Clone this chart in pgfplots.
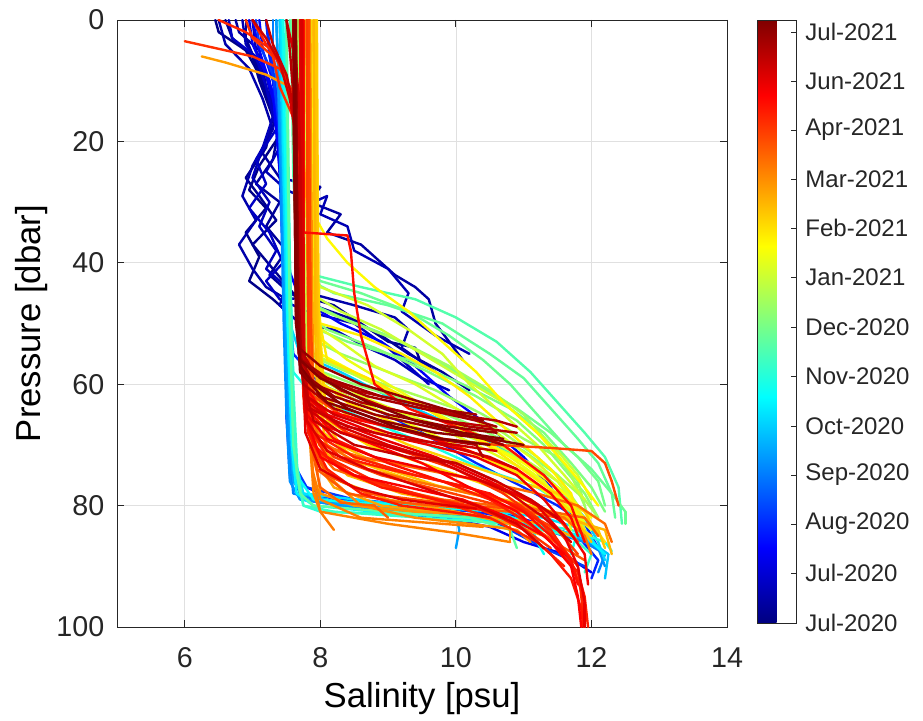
\documentclass[border=0pt]{standalone}
\usepackage{pgfplots}
\pgfplotsset{compat=1.18}
\usepackage{fontspec}
\setmainfont{Liberation Sans}
\definecolor{axgray}{RGB}{38,38,38}
\newcommand{\prof}[2]{\addplot[mesh, point meta=#1, line width=1.8pt, line cap=round, line join=round] coordinates {#2};}
\begin{document}
\begin{tikzpicture}
\begin{axis}[
  at={(87.75pt,69.75pt)}, anchor=south west,
  scale only axis, width=457.5pt, height=455.25pt,
  xmin=5, xmax=14, ymin=0, ymax=100, y dir=reverse,
  xtick={6,8,10,12,14}, ytick={0,20,40,60,80,100},
  grid=major, major grid style={black!12, line width=0.5pt},
  axis line style={axgray, line width=0.6pt},
  tick style={axgray, line width=0.6pt},
  tick align=inside, major tick length=5pt,
  ticklabel style={font=\fontsize{21.5}{21.5}\selectfont, text=axgray},
  xticklabel style={yshift=-12pt},
  yticklabel style={xshift=-6pt},
  /pgf/number format/assume math mode=true,
  xlabel={Salinity [psu]}, ylabel={Pressure [dbar]},
  label style={font=\fontsize{26}{26}\selectfont, text=black},
  xlabel style={yshift=-4pt},
  colormap/jet,
  point meta min=0, point meta max=603,
  colorbar,
  colorbar style={
    scale only axis,
    at={(parent axis.north east)}, anchor=north west, xshift=14.5pt,
    width=29.25pt, height=452.25pt,
    ytick={0,50,99,148,197,247,296,346,395,444,493,542,591},
    yticklabels={Jul-2020,Jul-2020,Aug-2020,Sep-2020,Oct-2020,Nov-2020,Dec-2020,Jan-2021,Feb-2021,Mar-2021,Apr-2021,Jun-2021,Jul-2021},
    yticklabel style={font=\fontsize{18}{18}\selectfont, text=axgray, xshift=3pt},
    ytick pos=right, yticklabel pos=right,
    tick align=inside, major tick length=4pt,
    axis line style={axgray, line width=0.6pt},
    tick style={axgray, line width=0.6pt},
  },
]
% ---- dark blue (Jul 2020)
\prof{5}{(6.45,0)(6.5,2)(6.9,5)(7.1,9)(7.25,14)(7.4,19)(7.1,24)(6.95,28)(7.2,31)(6.9,35)(7.1,39)(6.95,43)(7.3,46)(7.6,49)}
\prof{10}{(6.6,0)(6.7,3)(7.0,6)(7.1,10)(7.3,16)(7.2,21)(6.9,26)(7.1,29)(7.35,33)(7.0,37)(7.3,41)(7.6,45)(8.2,47)(8.6,50)(9.0,53)(9.4,54)(9.5,57)}
\prof{15}{(6.9,0)(6.9,3)(7.05,7)(7.2,12)(7.4,17)(7.3,23)(7.05,27)(7.4,30)(7.2,34)(7.5,38)(7.25,42)(7.55,45)(7.9,47)(8.4,49)(8.9,52)(9.3,55)(9.8,58)(10.2,61)}
\prof{20}{(6.75,0)(6.8,2)(7.1,5)(7.2,11)(7.35,16)(7.15,22)(7.4,26)(8.0,27.5)(7.85,30)(8.3,32)(8.1,35)(8.6,37)(8.9,40)(9.1,42)(9.4,44)(9.6,46)(9.7,50)(10.1,56)}
\prof{25}{(6.5,0)(6.6,4)(6.95,8)(7.15,13)(7.3,18)(7.0,24)(6.85,29)(7.05,33)(6.8,37)(7.0,41)(7.2,44)(7.5,46)(8.0,45.5)(8.5,47)(9.1,49)(9.3,51)(9.2,54)(9.7,58)}
\prof{30}{(6.85,0)(6.9,4)(7.2,9)(7.3,14)(7.45,20)(7.2,25)(7.5,28)(7.9,30)(8.1,29)(8.0,32)(8.4,34)(8.5,38)(9.0,41)(9.3,45)(9.2,48)(9.7,52)(10.2,55)}
\prof{35}{(7.0,0)(7.05,5)(7.25,10)(7.3,16)(7.15,21)(7.0,26)(7.25,30)(7.1,34)(7.35,38)(7.2,41)(7.5,44)(7.4,47)(7.7,50)(8.2,51)(8.7,54)(9.1,56)(9.5,59)(9.9,61)}
\prof{40}{(6.65,0)(6.7,3)(7.05,6)(7.2,11)(7.35,18)(7.05,23)(7.2,27)(6.95,31)(7.25,35)(7.45,40)(7.2,43)(7.4,46)(7.8,48)(8.5,50)(9.0,54)(9.6,60)}
% ---- blue (Aug 2020)
\prof{65}{(6.95,0)(7.0,4)(7.2,9)(7.35,15)(7.4,25)(7.45,40)(7.5,55)(7.5,65)(7.55,75)(7.8,79)(8.8,81)(9.8,82)(10.5,83.5)(11.0,86)(11.6,88)(12.0,91)}
\prof{70}{(7.0,0)(7.1,5)(7.3,12)(7.4,25)(7.5,40)(7.7,46)(8.3,50)(8.9,53)(9.4,57)(9.9,62)(10.5,67)(11.0,72)(11.4,77)(11.7,82)(12.0,86)}
\prof{80}{(7.1,0)(7.15,5)(7.3,10)(7.4,20)(7.45,35)(7.5,50)(7.5,65)(7.6,76)(8.2,79)(9.5,80)(10.8,81.5)(11.5,84)(12.0,86)(12.2,88)}
\prof{95}{(7.2,0)(7.25,6)(7.35,12)(7.42,25)(7.48,45)(7.52,60)(7.55,74)(7.7,78)(9.0,80)(10.3,81)(11.2,83)(11.8,85)(12.1,89)(12.0,92)}
\prof{100}{(7.2,0)(7.3,8)(7.45,20)(7.5,40)(7.6,55)(8.0,60)(8.8,64)(9.5,68)(10.3,73)(11.0,77)(11.5,80)(11.9,83)(12.1,87)}
\prof{110}{(7.05,0)(7.1,4)(7.3,9)(7.4,18)(7.46,30)(7.5,48)(7.55,62)(7.6,73)(7.8,77)(8.5,79)(9.5,80)(10.3,81)(10.8,84)(11.3,87)(11.9,90)}
% ---- cyan (Sep-Nov 2020)
\prof{150}{(7.3,0)(7.3,5)(7.38,12)(7.42,25)(7.48,45)(7.5,60)(7.55,72)(7.6,78)(8.3,80)(9.5,81)(10.6,82)(11.3,84)(11.9,86)(12.2,88)(12.1,91)}
\prof{160}{(7.35,0)(7.38,10)(7.42,30)(7.46,50)(7.5,65)(7.55,76)(7.7,79)(8.6,80.5)(9.9,81.5)(11.0,83)(11.7,85)(12.1,87)(12.2,90)}
\prof{170}{(7.35,0)(7.38,8)(7.42,20)(7.46,35)(7.5,55)(7.55,68)(7.6,76)(7.8,79)(8.8,80.5)(10.0,81.5)(10.05,84)(10.0,87)}
\prof{190}{(7.4,0)(7.42,10)(7.45,25)(7.5,45)(7.55,62)(7.6,74)(7.7,78)(8.5,80)(9.8,81)(10.8,82.5)(11.5,84)(12.0,86)(12.25,88)(12.2,92)}
\prof{200}{(7.4,0)(7.45,15)(7.5,35)(7.55,50)(7.7,55)(8.3,58)(9.0,62)(9.8,66)(10.6,70)(11.2,74)(11.6,78)(11.9,82)(12.1,86)(12.2,89)}
\prof{210}{(7.42,0)(7.44,10)(7.46,25)(7.5,45)(7.55,60)(7.62,72)(7.75,78)(8.9,79.5)(10.3,80.5)(11.3,82)(11.9,84)(12.1,87)}
\prof{220}{(7.44,0)(7.46,15)(7.5,35)(7.53,55)(7.58,70)(7.65,78)(7.9,80)(8.8,81)(10.0,82)(11.2,83.5)(11.9,85)(12.2,88)}
\prof{230}{(7.45,0)(7.46,10)(7.5,30)(7.52,50)(7.58,65)(7.65,75)(7.9,79)(9.3,80)(10.6,81)(11.1,83)(11.2,86)(11.3,88)}
\prof{240}{(7.45,0)(7.5,15)(7.55,40)(7.6,58)(7.9,62)(8.7,66)(9.6,70)(10.4,74)(11.2,77)(11.6,80)(11.8,84)(11.7,88)}
\prof{250}{(7.5,0)(7.5,10)(7.52,30)(7.55,50)(7.6,65)(7.65,75)(7.75,80)(8.0,81)(9.5,81.5)(10.9,82.5)(11.7,84)(12.2,86)(12.3,87.5)}
\prof{260}{(7.5,0)(7.52,15)(7.55,40)(7.6,60)(7.66,74)(7.75,80)(8.2,81)(9.5,82)(10.8,83)(11.7,85)(12.0,88)(11.9,91)}
% ---- green (Nov-Dec 2020)
\prof{275}{(7.55,0)(7.58,10)(7.6,25)(7.65,38)(7.9,42)(8.6,44)(9.4,46)(10.0,49)(10.6,53)(11.1,58)(11.5,63)(11.9,68)(12.2,72)(12.4,77)(12.45,83)}
\prof{280}{(7.5,0)(7.52,20)(7.55,50)(7.6,70)(7.7,78)(7.9,80)(9.0,81)(10.2,82)(10.8,84)(10.9,87)}
\prof{285}{(7.6,0)(7.6,12)(7.65,30)(7.7,42)(8.2,45)(9.0,47)(9.8,50)(10.5,55)(11.0,59)(11.4,64)(11.8,69)(12.1,73)(12.3,78)(12.35,82)}
\prof{290}{(7.58,0)(7.6,12)(7.63,30)(7.7,40)(8.0,43)(8.6,45)(9.3,48)(9.9,52)(10.4,56)(10.8,60)(11.2,65)(11.6,70)(12.0,74)(12.3,78)(12.5,81)(12.5,83)}
\prof{295}{(7.6,0)(7.62,15)(7.66,35)(7.72,46)(8.3,49)(9.0,52)(9.7,56)(10.3,60)(10.9,64)(11.4,68)(11.8,72)(12.1,76)(12.2,80)}
\prof{300}{(7.62,0)(7.64,20)(7.68,40)(7.75,50)(8.4,53)(9.3,56)(10.1,60)(10.8,64)(11.3,68)(11.7,73)(12.0,77)(12.2,81)}
\prof{305}{(7.62,0)(7.64,15)(7.68,35)(7.75,48)(8.1,51)(8.8,54)(9.6,58)(10.3,62)(10.9,66)(11.3,70)(11.6,74)(11.9,78)(12.1,82)}
\prof{310}{(7.64,0)(7.66,20)(7.7,45)(7.8,57)(8.5,60)(9.4,63)(10.3,67)(11.0,71)(11.5,75)(11.8,80)(11.9,84)}
\prof{315}{(7.65,0)(7.66,15)(7.7,38)(7.78,52)(8.3,55)(9.0,58)(9.7,61)(10.4,65)(11.0,69)(11.5,72)(11.8,76)(11.9,80)}
\prof{320}{(7.68,0)(7.7,20)(7.74,42)(7.85,47)(8.5,50)(9.2,53)(9.9,57)(10.5,61)(11.0,65)(11.4,70)(11.7,75)(11.9,80)(12.0,84)}
\prof{325}{(7.66,0)(7.68,15)(7.72,40)(7.8,55)(8.4,58)(9.2,61)(10.0,64)(10.7,68)(11.2,72)(11.6,76)(11.9,79)(12.1,82)}
\prof{335}{(7.7,0)(7.72,15)(7.75,40)(7.82,58)(8.3,61)(9.0,64)(9.8,67)(10.5,70)(11.1,73)(11.5,76)(11.7,79)(11.8,82)}
\prof{340}{(7.72,0)(7.74,20)(7.78,45)(7.9,55)(8.6,59)(9.4,63)(10.1,67)(10.8,71)(11.3,75)(11.7,79)(11.9,83)}
% ---- yellow (Jan-Feb 2021)
\prof{345}{(7.75,0)(7.76,15)(7.8,35)(7.85,45)(8.3,48)(8.9,51)(9.5,55)(10.1,59)(10.7,63)(11.1,67)(11.5,71)(11.8,75)(12.0,79)}
\prof{350}{(7.78,0)(7.8,20)(7.84,40)(8.0,44)(8.7,47)(9.3,51)(9.8,55)(10.2,60)(10.7,65)(11.2,70)(11.6,75)(11.9,79)}
\prof{355}{(7.8,0)(7.8,15)(7.82,35)(7.88,50)(8.3,53)(8.8,57)(9.4,60)(10.0,64)(10.6,68)(11.1,72)(11.5,76)(11.8,80)(11.9,83)}
\prof{360}{(7.82,0)(7.84,25)(7.86,48)(8.0,58)(8.6,62)(9.5,66)(10.3,70)(11.0,74)(11.5,78)(11.8,82)}
\prof{365}{(7.85,0)(7.86,20)(7.88,40)(7.95,52)(8.4,56)(9.0,60)(9.6,64)(10.2,68)(10.8,72)(11.3,76)(11.6,80)(11.7,84)}
\prof{370}{(7.86,0)(7.88,25)(7.9,50)(8.0,60)(8.8,64)(9.6,68)(10.4,72)(11.1,76)(11.6,80)(12.0,84)}
\prof{375}{(7.9,0)(7.9,20)(7.92,42)(8.0,55)(8.5,58)(9.2,62)(9.9,66)(10.5,70)(11.0,73)(11.5,77)(11.8,80)(12.0,82)}
\prof{380}{(7.9,0)(7.92,20)(7.95,33)(8.1,36)(8.4,40)(8.8,44)(9.3,48)(9.8,53)(10.3,58)(10.7,63)(11.2,68)(11.6,73)(11.9,77)(12.1,80)}
\prof{385}{(7.92,0)(7.93,20)(7.95,44)(8.0,50)(8.6,52)(9.2,55)(9.7,58)(10.2,62)(10.6,66)(11.0,70)(11.4,74)(11.7,78)(11.8,82)}
\prof{390}{(7.92,0)(7.94,25)(7.96,48)(8.1,56)(8.7,59)(9.4,63)(10.0,67)(10.6,71)(11.1,75)(11.6,79)(12.0,83)(12.2,86)}
\prof{395}{(7.95,0)(7.95,20)(7.96,45)(8.05,60)(8.4,63)(9.0,66)(9.7,69)(10.4,72)(11.0,75)(11.4,78)(11.7,81)(11.9,84)}
\prof{400}{(7.95,0)(7.96,25)(7.98,52)(8.1,66)(8.7,70)(9.5,73)(10.3,76)(11.0,79)(11.6,82)(12.0,85)}
\prof{405}{(7.93,0)(7.94,25)(7.97,50)(8.05,62)(8.5,66)(9.3,70)(10.1,73)(10.9,76)(11.5,78)(11.9,81)(12.1,85)}
\prof{410}{(7.94,0)(7.95,25)(7.97,55)(8.05,68)(8.6,73)(9.4,76)(10.3,78)(11.1,80)(11.7,82)(12.1,84)(12.2,87)}
\prof{415}{(7.9,0)(7.92,25)(7.95,50)(8.0,65)(8.3,70)(9.0,74)(9.8,77)(10.6,79)(11.3,81)(11.8,83)(12.0,86)}
\prof{420}{(7.9,0)(7.91,25)(7.93,55)(7.98,70)(8.4,75)(9.2,78)(10.1,80)(10.9,81)(11.6,82)(12.2,84)(12.3,88)}
% ---- orange (Feb-Apr 2021)
\prof{430}{(7.82,0)(7.84,30)(7.86,60)(7.9,72)(8.2,77)(8.9,80)(9.7,81)(10.6,82)(11.3,83)(11.7,85)}
\prof{435}{(6.25,6)(6.6,7)(7.2,9)(7.55,11)(7.7,15)(7.8,30)(7.82,50)(7.85,65)(7.9,72)(8.3,76)(9.0,79)(10.0,81)(10.8,83)(11.3,85)}
\prof{440}{(7.84,0)(7.85,25)(7.87,55)(7.9,70)(8.0,78)(8.5,80)(9.4,81)(10.3,81.5)(10.8,83)(10.8,86)}
\prof{445}{(7.85,0)(7.86,20)(7.88,45)(7.9,65)(7.95,72)(8.2,76)(8.6,80)(9.4,82)(10.2,83)(10.9,84)(11.1,86)}
\prof{450}{(7.8,0)(7.82,40)(7.85,70)(7.9,78)(8.0,81)(9.0,83)(10.0,84.5)(10.8,86)}
\prof{452}{(7.8,0)(7.82,30)(7.84,60)(7.88,74)(8.0,79)(8.6,82)(9.8,83)(10.4,83.5)}
\prof{455}{(7.8,0)(7.8,20)(7.82,45)(7.85,68)(7.9,76)(8.0,81)(8.2,84)}
\prof{460}{(7.82,0)(7.83,30)(7.85,55)(7.9,66)(8.1,70)(8.7,74)(9.4,76)(10.2,78)(11.0,80)(11.6,82)(11.9,85)(12.0,88)}
\prof{465}{(7.82,0)(7.83,25)(7.85,50)(7.88,65)(8.0,70)(8.6,72)(9.5,74)(10.4,76)(11.2,78)(11.8,80)(12.2,83)(12.3,86)}
\prof{468}{(7.83,0)(7.84,30)(7.86,60)(7.9,70)(8.2,74)(9.0,77)(9.8,79)(10.6,80)(11.4,81)(11.9,82)(12.1,85)}
\prof{470}{(7.81,0)(7.82,30)(7.85,60)(7.9,72)(8.0,77)(8.3,79.5)(8.8,80)(9.0,82)}
\prof{475}{(7.8,0)(7.81,25)(7.83,50)(7.86,68)(7.95,74)(8.4,78)(9.2,79.5)(10.2,80.5)(10.8,81)(11.2,84)(11.6,87)(11.9,89)}
\prof{480}{(7.81,0)(7.82,30)(7.84,58)(7.88,70)(8.1,75)(8.7,78)(9.4,79)(10.1,80)(10.9,80.5)(11.5,82)(11.8,86)}
\prof{485}{(7.83,0)(7.84,25)(7.86,50)(7.9,62)(8.3,65)(9.0,67)(9.8,69)(10.6,70)(11.4,70.5)(12.0,71)(12.2,73)(12.3,76)(12.4,80)}
\prof{490}{(7.8,0)(7.81,30)(7.83,58)(7.86,68)(8.2,72)(8.9,75)(9.6,77)(10.3,79)(11.0,81)(11.5,84)(11.8,88)}
% ---- red (Apr-Jun 2021)
\prof{498}{(6.9,0)(7.0,3)(7.3,6)(7.4,11)(7.6,16)(7.7,25)(7.72,50)(7.76,64)(7.95,71)(8.5,75)(9.3,78)(10.2,80)(10.9,83)(11.4,87)}
\prof{500}{(6.0,3.5)(6.4,4.5)(7.0,6)(7.4,8)(7.6,12)(7.7,20)(7.72,40)(7.75,58)(7.9,64)(8.4,68)(9.2,71)(10.0,74)(10.7,78)(11.2,82)(11.5,86)(11.8,90)(11.85,95)(11.9,100)}
\prof{505}{(6.5,0)(6.9,2)(7.3,5)(7.5,10)(7.65,18)(7.7,30)(7.72,55)(7.78,66)(8.1,72)(8.8,76)(9.7,79)(10.5,82)(11.2,86)(11.6,90)}
\prof{508}{(7.0,0)(7.2,4)(7.45,8)(7.6,14)(7.7,25)(7.72,50)(7.75,62)(7.9,68)(8.5,72)(9.4,75)(10.2,77)(10.9,80)(11.4,84)(11.7,89)(11.85,94)(11.9,100)}
\prof{510}{(7.7,0)(7.72,20)(7.74,40)(7.76,60)(7.85,68)(8.3,72)(9.0,74)(9.8,76)(10.5,79)(11.1,83)(11.5,87)(11.8,91)(11.9,95)(11.95,100)}
\prof{512}{(7.72,0)(7.73,30)(7.75,58)(7.82,68)(8.1,74)(8.6,78)(9.2,80)(9.9,81)(10.5,82)}
\prof{515}{(7.72,0)(7.73,25)(7.75,50)(7.78,62)(7.9,70)(8.3,74)(8.9,77)(9.7,79)(10.5,81)(11.0,84)(11.4,88)(11.7,92)(11.85,97)(11.88,100)}
\prof{518}{(7.72,0)(7.73,30)(7.75,55)(7.8,64)(8.2,69)(9.0,73)(9.8,76)(10.5,78)(11.0,81)(11.4,85)(11.7,89)(11.8,93)}
\prof{520}{(7.75,0)(7.75,35)(8.4,35.5)(8.45,38)(8.5,45)(8.6,52)(8.8,60)(9.3,64)(10.0,67)(10.7,70)(11.3,75)(11.7,80)(11.9,86)}
\prof{525}{(7.7,0)(7.72,25)(7.74,50)(7.76,60)(8.0,64)(8.6,66)(9.4,68)(10.2,71)(10.9,74)(11.4,78)(11.7,82)(11.8,85)}
\prof{528}{(7.71,0)(7.72,30)(7.74,55)(7.78,63)(8.1,67)(8.8,70)(9.5,73)(10.2,77)(10.9,81)(11.4,86)(11.7,90)(11.8,95)(11.85,100)}
\prof{530}{(7.72,0)(7.73,25)(7.75,52)(7.8,66)(8.0,72)(8.5,75)(9.3,77)(10.1,79)(10.8,82)(11.3,85)(11.6,88)}
\prof{535}{(7.74,0)(7.75,30)(7.76,55)(7.8,65)(8.1,69)(8.8,72)(9.6,74)(10.4,76)(11.1,79)(11.6,83)(11.9,88)(11.95,93)}
\prof{538}{(7.73,0)(7.74,30)(7.76,55)(7.8,62)(8.1,65)(8.8,68)(9.6,70)(10.3,72)(10.9,75)(11.3,79)(11.6,83)}
\prof{540}{(7.73,0)(7.74,30)(7.76,55)(7.8,62)(8.2,66)(8.9,69)(9.7,72)(10.5,76)(11.2,80)(11.6,85)(11.8,90)(11.9,96)(11.9,100)}
\prof{545}{(7.71,0)(7.72,30)(7.74,56)(7.78,68)(8.0,74)(8.5,77)(9.2,79)(9.9,80)(10.3,80.5)}
\prof{548}{(7.72,0)(7.73,30)(7.75,57)(7.8,66)(8.1,71)(8.7,74)(9.5,77)(10.3,80)(10.9,83)(11.3,87)}
\prof{550}{(7.73,0)(7.74,30)(7.76,55)(7.82,63)(8.3,67)(9.0,70)(9.6,72)(10.2,75)(10.8,78)(11.3,82)(11.7,86)}
\prof{553}{(7.5,0)(7.6,5)(7.68,12)(7.72,30)(7.74,55)(7.8,62)(8.2,65)(9.0,68)(9.8,70)(10.5,72)(10.9,74)}
\prof{555}{(7.0,0)(7.2,3)(7.4,7)(7.55,13)(7.65,20)(7.7,40)(7.73,58)(7.8,64)(8.3,68)(9.2,71)(10.0,73)(10.6,76)(11.1,79)(11.5,82)}
\prof{558}{(7.6,0)(7.65,8)(7.7,20)(7.72,45)(7.75,58)(7.85,64)(8.4,67)(9.2,69)(10.0,70)(10.6,71)}
\prof{560}{(7.2,0)(7.3,4)(7.5,9)(7.6,14)(7.7,22)(7.72,45)(7.75,60)(7.9,66)(8.5,70)(9.3,72)(10.0,73)(10.6,76)}
% ---- dark red (Jun-Jul 2021)
\prof{565}{(7.6,0)(7.62,20)(7.65,40)(7.68,52)(7.8,57)(8.3,61)(9.0,64)(9.8,66)(10.5,67)(10.6,68)}
\prof{570}{(7.62,0)(7.63,20)(7.66,40)(7.7,54)(7.9,58)(8.5,61)(9.3,63)(10.0,65)(10.6,66)(10.9,67)}
\prof{572}{(7.5,0)(7.55,5)(7.6,12)(7.62,25)(7.66,50)(7.75,60)(8.2,64)(9.0,67)(9.7,69)(10.3,70)(10.4,72)}
\prof{575}{(7.6,0)(7.61,20)(7.64,45)(7.68,55)(7.9,60)(8.6,63)(9.4,65)(10.2,67)(10.9,68)}
\prof{580}{(7.63,0)(7.64,20)(7.66,45)(7.7,56)(8.0,59)(8.7,62)(9.5,64)(10.3,66)(10.6,67)}
\prof{582}{(7.64,0)(7.65,20)(7.68,45)(7.72,56)(8.1,59)(8.9,62)(9.7,64)(10.3,65)}
\prof{585}{(7.62,0)(7.63,25)(7.65,48)(7.7,57)(8.0,62)(8.8,65)(9.6,67)(10.4,69)(10.7,70)}
\prof{588}{(7.63,0)(7.64,25)(7.66,50)(7.72,58)(8.2,62)(9.0,65)(9.9,67)(10.6,68)}
\prof{590}{(7.61,0)(7.62,25)(7.64,48)(7.68,54)(8.0,57)(8.6,60)(9.2,62)(9.8,64)(10.4,66)}
\prof{595}{(7.64,0)(7.65,25)(7.67,48)(7.7,58)(8.1,63)(8.9,66)(9.7,68)(10.5,69)(11.0,70)}
\prof{598}{(7.61,0)(7.62,25)(7.64,50)(7.7,56)(8.0,59)(8.7,63)(9.4,66)(10.1,68)(10.7,69)}
\prof{600}{(7.62,0)(7.63,25)(7.65,50)(7.7,57)(7.9,60)(8.4,64)(9.1,67)(9.8,69)(10.5,70)}
\end{axis}
\pgfresetboundingbox
\path[use as bounding box] (0,0) rectangle (692.25pt,540pt);
\end{tikzpicture}
\end{document}
